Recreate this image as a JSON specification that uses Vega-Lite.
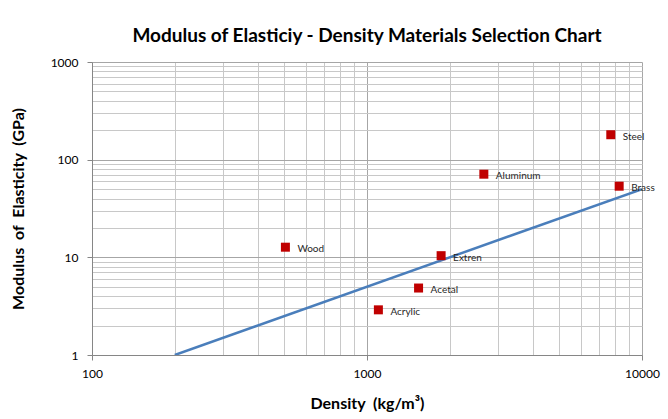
{
  "$schema": "https://vega.github.io/schema/vega-lite/v6.json",
  "autosize": "none",
  "width": 550,
  "height": 293,
  "padding": {"left": 92, "top": 62, "right": 26, "bottom": 64},
  "background": "white",
  "config": {"view": {"stroke": null}, "font": "Lato"},
  "title": {"text": "Modulus of Elasticiy - Density Materials Selection Chart", "font": "Lato", "fontSize": 19, "fontWeight": "bold", "color": "#000000", "anchor": "middle", "offset": 10},
  "datasets": {
    "materials": [
      {"material": "Wood", "density": 505, "modulus": 12.7},
      {"material": "Acrylic", "density": 1100, "modulus": 2.9},
      {"material": "Acetal", "density": 1540, "modulus": 4.85},
      {"material": "Extren", "density": 1860, "modulus": 10.4},
      {"material": "Aluminum", "density": 2660, "modulus": 71},
      {"material": "Steel", "density": 7700, "modulus": 180},
      {"material": "Brass", "density": 8260, "modulus": 53.5}
    ],
    "trend": [
      {"density": 200, "modulus": 1},
      {"density": 10000, "modulus": 50}
    ]
  },
  "encoding": {
    "x": {"field": "density", "type": "quantitative",
      "scale": {"type": "log", "domain": [100, 10000], "nice": false},
      "axis": {
        "title": "Density\u00a0 (kg/m³)", "titleFont": "Lato", "titleFontSize": 16, "titleFontWeight": "bold", "titleColor": "#000000",
        "titleX": 275, "titleY": 48, "titleBaseline": "middle", "titleAlign": "center",
        "values": [100,200,300,400,500,600,700,800,900,1000,2000,3000,4000,5000,6000,7000,8000,9000,10000],
        "labelExpr": "(datum.value == 100 || datum.value == 1000 || datum.value == 10000) ? datum.label : ''",
        "format": "d", "labelFont": "Lato", "labelFontSize": 12, "labelColor": "#000000", "labelPadding": 8,
        "labelFlush": false, "labelOverlap": false,
        "domainColor": "#868686", "domainWidth": 1,
        "tickSize": 5, "tickColor": {"condition": {"test": "datum.value == 100 || datum.value == 1000 || datum.value == 10000", "value": "#868686"}, "value": "transparent"},
        "grid": true,
        "gridColor": {"condition": {"test": "datum.value == 100 || datum.value == 1000 || datum.value == 10000", "value": "#a6a6a6"}, "value": "#c8c8c8"}
      }
    },
    "y": {"field": "modulus", "type": "quantitative",
      "scale": {"type": "log", "domain": [1, 1000], "nice": false},
      "axis": {
        "title": "Modulus\u00a0 of\u00a0 Elasticity\u00a0 (GPa)", "titleFont": "Lato", "titleFontSize": 16, "titleFontWeight": "bold", "titleColor": "#000000",
        "titleX": -74, "titleY": 146.5, "titleAngle": -90, "titleBaseline": "middle", "titleAlign": "center",
        "values": [1,2,3,4,5,6,7,8,9,10,20,30,40,50,60,70,80,90,100,200,300,400,500,600,700,800,900,1000],
        "labelExpr": "(datum.value == 1 || datum.value == 10 || datum.value == 100 || datum.value == 1000) ? datum.label : ''",
        "format": "d", "labelFont": "Lato", "labelFontSize": 12, "labelColor": "#000000", "labelPadding": 9,
        "labelFlush": false, "labelOverlap": false,
        "domainColor": "#868686", "domainWidth": 1,
        "tickSize": 5, "tickColor": {"condition": {"test": "datum.value == 1 || datum.value == 10 || datum.value == 100 || datum.value == 1000", "value": "#868686"}, "value": "transparent"},
        "grid": true,
        "gridColor": {"condition": {"test": "datum.value == 1 || datum.value == 10 || datum.value == 100 || datum.value == 1000", "value": "#a6a6a6"}, "value": "#c8c8c8"}
      }
    }
  },
  "layer": [
    {"data": {"name": "trend"}, "mark": {"type": "line", "color": "#4A7EBB", "strokeWidth": 2.5, "clip": true}},
    {"data": {"name": "materials"}, "mark": {"type": "point", "shape": "square", "filled": true, "size": 81, "color": "#C00000", "opacity": 1}},
    {"data": {"name": "materials"}, "mark": {"type": "text", "align": "left", "baseline": "middle", "dx": 12, "dy": 2, "font": "Lato", "fontSize": 10, "color": "#262626"},
      "encoding": {"text": {"field": "material", "type": "nominal"}}}
  ]
}
